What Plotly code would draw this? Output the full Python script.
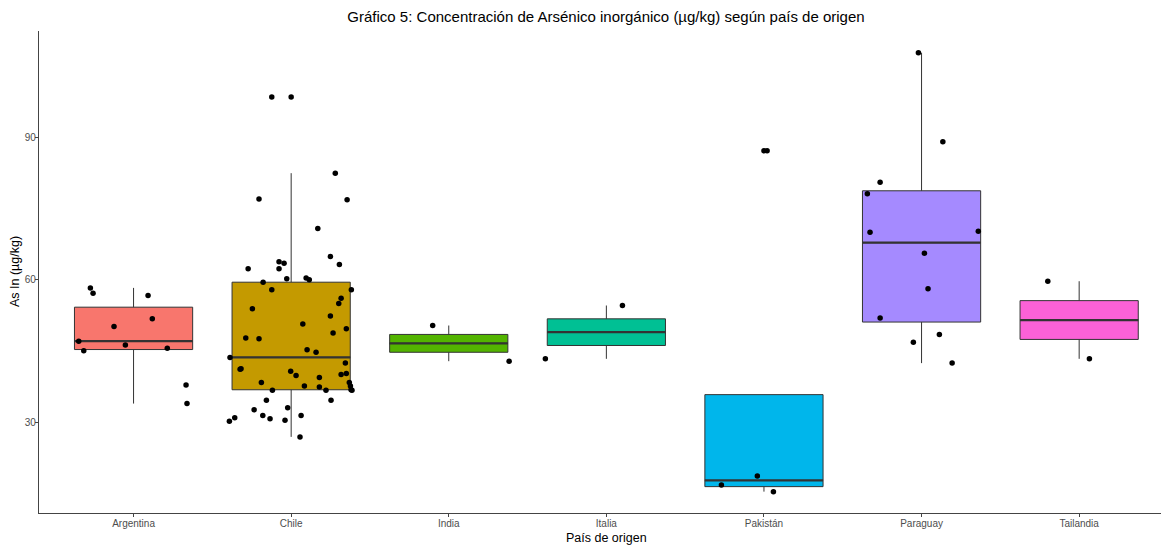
import numpy as np
import plotly.graph_objects as go

categories = ["Argentina", "Chile", "India", "Italia", "Pakistán", "Paraguay", "Tailandia"]

argentina = [58.3, 57.2, 56.7, 51.8, 50.2, 47.1, 45.1, 46.3, 45.6, 37.9, 34.0]
argentina_jitter = [-0.274, -0.257, 0.092, 0.119, -0.124, -0.348, -0.316, -0.052, 0.214, 0.333, 0.339]

chile = [98.4, 82.4, 77.0, 76.8, 70.8, 64.9, 63.2, 63.8, 63.5, 62.3, 62.3, 59.5, 60.2, 60.4,
         60.0, 57.9, 57.9, 56.1, 55.0, 53.9, 52.4, 50.7, 49.7, 48.8, 47.8, 47.6, 45.3, 44.8,
         43.7, 42.5, 41.3, 41.2, 40.8, 39.9, 39.5, 40.1, 40.3, 38.4, 37.7, 37.5, 38.4, 37.7,
         36.9, 36.8, 36.8, 36.8, 34.7, 34.7, 33.1, 32.7, 31.5, 31.5, 30.8, 30.5, 31.0, 30.3, 27.0]
chile_jitter = [-0.123, 0.280, -0.204, 0.355, 0.169, 0.249, 0.306, -0.077, -0.045, -0.077, -0.273,
                -0.178, -0.028, 0.095, 0.115, -0.123, 0.382, 0.317, 0.302, -0.246, 0.249, 0.074,
                0.350, 0.266, -0.288, -0.204, 0.101, 0.158, -0.388, 0.344, -0.318, -0.324, -0.003,
                0.031, 0.179, 0.317, 0.350, -0.189, 0.084, 0.179, 0.369, 0.376, 0.380, 0.386,
                -0.119, 0.221, -0.157, 0.253, -0.022, -0.235, -0.180, 0.063, -0.134, -0.039,
                -0.358, -0.392, 0.056]

india = [50.4, 42.9]
india_jitter = [-0.102, 0.383]

italia = [54.6, 43.4]
italia_jitter = [0.102, -0.387]

pakistan = [87.1, 18.8, 16.9, 15.5]
pakistan_jitter = [0.020, -0.042, -0.270, 0.060]

paraguay = [107.7, 89.0, 80.5, 78.1, 70.0, 70.2, 65.6, 58.1, 52.0, 48.5, 46.9, 42.5]
paraguay_jitter = [-0.020, 0.135, -0.263, -0.344, -0.327, 0.360, 0.018, 0.041, -0.263, 0.113, -0.052, 0.194]

tailandia = [59.7, 43.4]
tailandia_jitter = [-0.199, 0.065]

colors = ["#F8766D", "#C49A00", "#53B400", "#00C094", "#00B6EB", "#A58AFF", "#FB61D7"]

series = [argentina, chile, india, italia, pakistan, paraguay, tailandia]
jitters = [argentina_jitter, chile_jitter, india_jitter, italia_jitter,
           pakistan_jitter, paraguay_jitter, tailandia_jitter]

FONT = "Liberation Sans, Arial, sans-serif"
BOX_W = 0.75

fig = go.Figure()

med_x, med_y = [], []
out_x, out_y = [], []
for i, (vals, col) in enumerate(zip(series, colors)):
    pos = i + 1
    v = np.array(vals, dtype=float)
    q1, med, q3 = np.percentile(v, [25, 50, 75])
    iqr = q3 - q1
    lo_lim, hi_lim = q1 - 1.5 * iqr, q3 + 1.5 * iqr
    inside = v[(v >= lo_lim) & (v <= hi_lim)]
    lower = min(q1, inside.min())
    upper = max(q3, inside.max())
    outs = v[(v < lo_lim) | (v > hi_lim)]
    out_x += [pos] * len(outs)
    out_y += list(outs)
    fig.add_trace(go.Box(
        x=[pos], q1=[q1], median=[med], q3=[q3], lowerfence=[lower], upperfence=[upper],
        width=BOX_W, fillcolor=col, line=dict(color="#333333", width=1),
        whiskerwidth=0, boxpoints=False, showlegend=False, hoverinfo="skip",
    ))
    med_x += [pos - BOX_W / 2, pos + BOX_W / 2, None]
    med_y += [med, med, None]

fig.add_trace(go.Scatter(x=med_x, y=med_y, mode="lines",
                         line=dict(color="#333333", width=2.2), showlegend=False, hoverinfo="skip"))

fig.add_trace(go.Scatter(x=out_x, y=out_y, mode="markers",
                         marker=dict(color="black", size=5.5), showlegend=False))

jx, jy = [], []
for i, (vals, jit) in enumerate(zip(series, jitters)):
    for v, j in zip(vals, jit):
        jx.append(i + 1 + j)
        jy.append(v)
fig.add_trace(go.Scatter(x=jx, y=jy, mode="markers",
                         marker=dict(color="black", size=5.5), showlegend=False))

W, H = 1161, 546
L, R, T, B = 39, 0, 31, 33
pw = W - L - R
ph = H - T - B
CENTER_X = 606

fig.update_layout(
    width=W, height=H,
    margin=dict(l=L, r=R, t=T, b=B),
    paper_bgcolor="white", plot_bgcolor="white",
    font=dict(family=FONT, color="black"),
    title=dict(text="Gráfico 5: Concentración de Arsénico inorgánico (µg/kg) según país de origen",
               xref="container", x=CENTER_X / W, xanchor="center",
               yref="container", y=1 - 17 / H, yanchor="middle",
               font=dict(size=15, family=FONT, color="black")),
    xaxis=dict(range=[0.4, 0.4 + pw / 157.6], tickmode="array",
               tickvals=list(range(1, len(categories) + 1)), ticktext=categories,
               showgrid=False, zeroline=False, showline=True, linecolor="#444444", linewidth=1.3,
               ticks="outside", ticklen=3, tickcolor="#444444", tickwidth=1,
               ticklabelstandoff=-2,
               tickfont=dict(size=10, color="#4D4D4D", family=FONT)),
    yaxis=dict(range=[11.01, 112.27], tickvals=[30, 60, 90],
               showgrid=False, zeroline=False, showline=True, linecolor="#444444", linewidth=1.3,
               ticks="outside", ticklen=3, tickcolor="#444444", tickwidth=1,
               ticklabelstandoff=-3,
               tickfont=dict(size=10, color="#4D4D4D", family=FONT)),
    annotations=[
        dict(text="País de origen", xref="paper", yref="paper",
             x=(CENTER_X - L) / pw, y=(H - B - 538) / ph, xanchor="center", yanchor="middle",
             showarrow=False, font=dict(size=12.5, family=FONT, color="black")),
        dict(text="As In (µg/kg)", xref="paper", yref="paper",
             x=(15 - L) / pw, y=(H - B - 272) / ph, xanchor="center", yanchor="middle",
             textangle=-90, showarrow=False, font=dict(size=12.5, family=FONT, color="black")),
    ],
)

fig.write_html("out.html", config={"displayModeBar": False},
               post_script="document.body.style.margin='0';document.body.style.overflow='hidden';")
